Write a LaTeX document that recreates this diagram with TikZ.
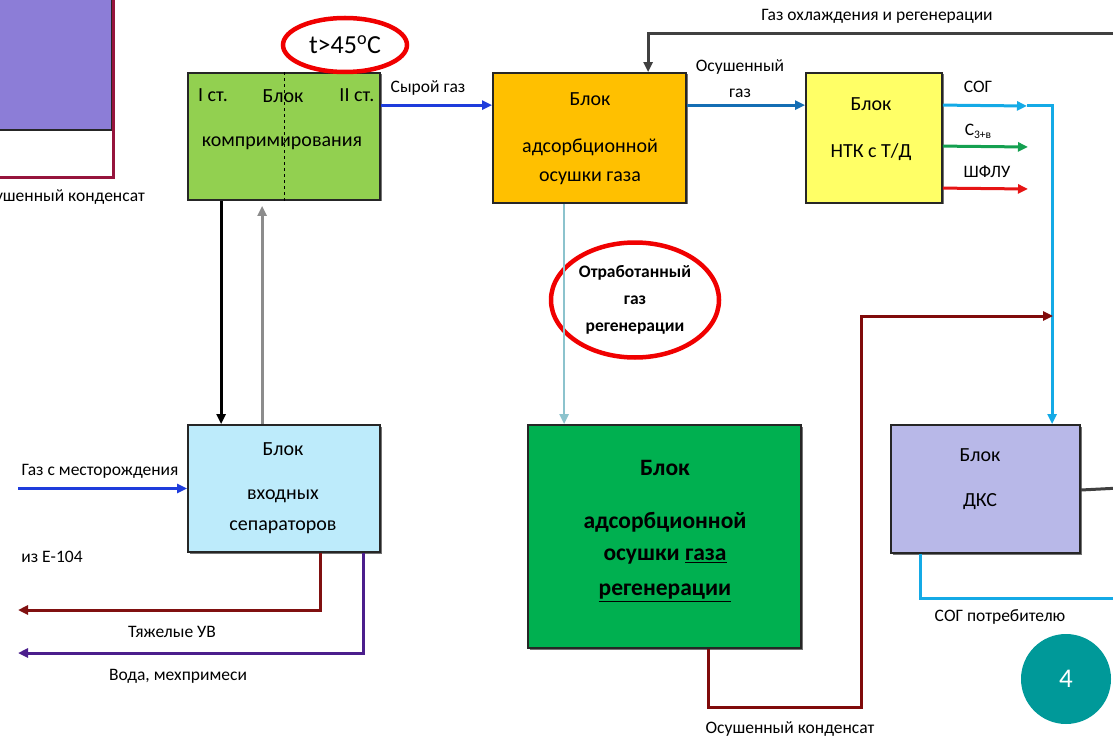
\documentclass[tikz,border=0pt]{standalone}
\usepackage{fontspec}
\setmainfont{Carlito}
\usetikzlibrary{arrows.meta, shapes.geometric, shadows}

\definecolor{lilac}{RGB}{140,125,215}
\definecolor{compgreen}{RGB}{146,208,80}
\definecolor{adsorange}{RGB}{255,192,0}
\definecolor{ntkyellow}{RGB}{255,255,102}
\definecolor{sepblue}{RGB}{189,235,251}
\definecolor{regengreen}{RGB}{0,176,80}
\definecolor{dkslilac}{RGB}{184,184,232}
\definecolor{pageteal}{RGB}{0,153,153}
\definecolor{rawblue}{RGB}{30,60,220}
\definecolor{driedblue}{RGB}{20,110,180}
\definecolor{sogblue}{RGB}{20,170,230}
\definecolor{cgreen}{RGB}{20,160,80}
\definecolor{shflred}{RGB}{230,20,20}
\definecolor{coolgray}{RGB}{64,64,64}
\definecolor{upgray}{RGB}{140,140,140}
\definecolor{spentblue}{RGB}{140,195,205}
\definecolor{heavyred}{RGB}{128,16,16}
\definecolor{waterpurple}{RGB}{75,30,140}
\definecolor{condred}{RGB}{128,10,10}
\definecolor{oldcond}{RGB}{150,20,60}
\definecolor{ringred}{RGB}{240,0,0}

\newcommand{\blkfont}{\fontsize{20}{23}\selectfont}
\newcommand{\lblfont}{\fontsize{17.5}{20}\selectfont}
\newcommand{\bigblkfont}{\fontsize{23.5}{27}\selectfont\bfseries}

\begin{document}
\begin{tikzpicture}[
  x=1pt, y=-1pt,
  box/.style={rectangle, draw=black!85, line width=1.8pt, fill=#1, inner sep=0pt,
    drop shadow={shadow xshift=1.5pt, shadow yshift=-1.5pt, fill=black!55, opacity=1}},
  txt/.style={font=\blkfont, inner sep=0pt, anchor=center},
  lbl/.style={font=\lblfont, inner sep=0pt, anchor=center},
  flow/.style={draw=#1, line width=3pt, -{Triangle[length=10pt, width=9pt]}},
  pipe/.style={draw=#1, line width=3pt},
  ring/.style={ellipse, draw=ringred, line width=4.5pt, inner sep=0pt, align=center}
]
\useasboundingbox (0,0) rectangle (1113,738);
\clip (0,0) rectangle (1113,738);

% Blocks
\node[box=lilac, minimum width=144, minimum height=160] (prev) at (40,50) {};
\node[box=compgreen, minimum width=192, minimum height=127] (comp) at (284,136.5) {};
\node[box=adsorange, minimum width=193, minimum height=130] (ads) at (589.5,138) {};
\node[box=ntkyellow, minimum width=136, minimum height=130] (ntk) at (874,138) {};
\node[box=sepblue, minimum width=192, minimum height=127] (sep) at (284,488.5) {};
\node[box=regengreen, minimum width=273, minimum height=223] (regen) at (664.5,536.5) {};
\node[box=dkslilac, minimum width=189, minimum height=128] (dks) at (985.5,489) {};

\draw[dashed, line width=0.6pt] (comp.north) -- (comp.south);

% Texts in blocks
\node[txt] (compI) at (213,95) {I ст.};
\node[txt] (compA) at (283,96) {Блок};
\node[txt] (compII) at (357,95) {II ст.};
\node[txt] (compB) at (282,143) {компримирования};

\node[txt] (adsA) at (590,99) {Блок};
\node[txt] (adsB) at (590,147) {адсорбционной};
\node[txt] (adsC) at (590,178) {осушки газа};

\node[txt] (ntkA) at (871,104) {Блок};
\node[txt] (ntkB) at (871,152) {НТК с Т/Д};

\node[txt] (sepA) at (283,449) {Блок};
\node[txt] (sepB) at (283,496) {входных};
\node[txt] (sepC) at (283,527) {сепараторов};

\node[txt, font=\bigblkfont] (regenA) at (665,468) {Блок};
\node[txt, font=\bigblkfont] (regenB) at (665,522) {адсорбционной};
\node[txt, font=\bigblkfont] (regenC) at (665,557) {осушки \underline{газа}};
\node[txt, font=\bigblkfont] (regenD) at (665,593) {\underline{регенерации}};

\node[txt] (dksA) at (980,455) {Блок};
\node[txt] (dksB) at (980,502) {ДКС};

% Marks
\node[ring, minimum width=124, minimum height=54, font=\fontsize{26}{30}\selectfont] (temp) at (345,45) {t>45\textsuperscript{o}C};
\node[ring, minimum width=168, minimum height=115, font=\fontsize{17.5}{27}\selectfont\bfseries] (spent) at (635,300) {Отработанный\\газ\\регенерации};
\node[circle, fill=pageteal, minimum size=90, inner sep=0pt, text=white, font=\fontsize{27}{30}\selectfont] (page) at (1066,679) {4};

% Free ends
\coordinate (oldtop) at (113,-5);
\coordinate (oldleft) at (-5,178);
\coordinate (coolin) at (1120,34);
\coordinate (sogtip) at (1027,106);
\coordinate (cend) at (1028,147);
\coordinate (shflend) at (1028,189);
\coordinate (fieldin) at (18,488.5);
\coordinate (heavyend) at (18,610);
\coordinate (waterend) at (18,653);
\coordinate (condturn) at (861,707);
\coordinate (condend) at (1053,316);
\coordinate (dksout) at (1120,488);
\coordinate (userend) at (1120,598);

% Connectors
\draw[pipe=oldcond] (oldtop) |- (oldleft);
\draw[flow=rawblue] ([yshift=-33pt]comp.north east) -- ([yshift=-33pt]ads.north west);
\draw[flow=coolgray] (coolin) -| ([xshift=156pt]ads.north west);
\draw[flow=driedblue] ([yshift=-33pt]ads.north east) -- ([yshift=-33pt]ntk.north west);
\draw[flow=sogblue] ([yshift=-33pt]ntk.north east) -- (sogtip);
\draw[flow=sogblue] (sogtip) -| ([xshift=162pt]dks.north west);
\draw[flow=cgreen] ([yshift=-74pt]ntk.north east) -- (cend);
\draw[flow=shflred] ([yshift=-116pt]ntk.north east) -- (shflend);
\draw[flow=spentblue, line width=2.5pt] ([xshift=72pt]ads.south west) -- ([xshift=37pt]regen.north west);
\draw[flow=black] ([xshift=34pt]comp.south west) -- ([xshift=34pt]sep.north west);
\draw[flow=upgray] ([xshift=75pt]sep.north west) -- ([xshift=75pt, yshift=-5pt]comp.south west);
\draw[flow=rawblue] (fieldin) -- (sep.west);
\draw[flow=heavyred] ([xshift=133pt]sep.south west) |- (heavyend);
\draw[flow=waterpurple] ([xshift=176pt]sep.south west) |- (waterend);
\draw[flow=condred] ([xshift=181pt]regen.south west) |- (condturn) |- (condend);
\draw[pipe=coolgray] ([yshift=-1pt]dks.east) -- (dksout);
\draw[pipe=sogblue] ([xshift=30pt]dks.south west) |- (userend);

% Flow labels
\node[lbl, anchor=east] (oldcondlbl) at (145,197) {Осушенный конденсат};
\node[lbl] (rawlbl) at (428,88) {Сырой газ};
\node[lbl] (coollbl) at (877,16) {Газ охлаждения и регенерации};
\node[lbl] (driedlblA) at (740,67) {Осушенный};
\node[lbl] (driedlblB) at (740,93) {газ};
\node[lbl] (soglbl) at (978,87) {СОГ};
\node[lbl] (clbl) at (978,131) {C\raisebox{-3pt}{\fontsize{11.5}{11.5}\selectfont 3+в}};
\node[lbl] (shfllbl) at (987,172) {ШФЛУ};
\node[lbl] (fieldlbl) at (100,471) {Газ с месторождения};
\node[lbl] (e104lbl) at (52,557) {из Е-104};
\node[lbl] (heavylbl) at (172,632) {Тяжелые УВ};
\node[lbl] (waterlbl) at (178,676) {Вода, мехпримеси};
\node[lbl] (condlbl) at (790,729) {Осушенный конденсат};
\node[lbl] (userlbl) at (1000,617) {СОГ потребителю};
\end{tikzpicture}
\end{document}
